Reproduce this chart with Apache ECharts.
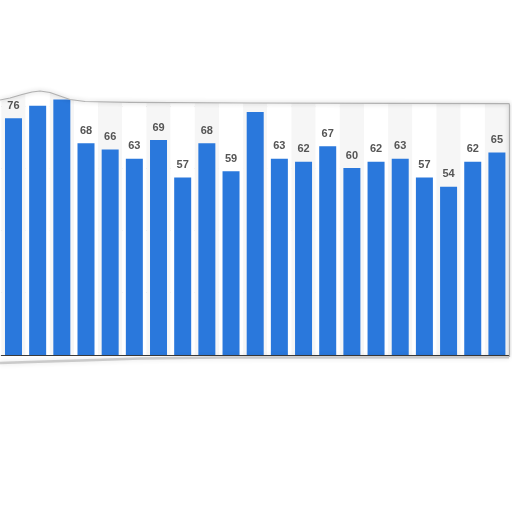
<!DOCTYPE html>
<html>
<head>
<meta charset="utf-8">
<script src="https://cdn.jsdelivr.net/npm/echarts@6/dist/echarts.min.js"></script>
<style>
html,body{margin:0;padding:0;background:#fff;}
#chart{width:512px;height:512px;}
</style>
</head>
<body>
<div id="chart"></div>
<script>
var categories = ['1','2','3','4','5','6','7','8','9','10','11','12','13','14','15','16','17','18','19','20','21'];
var values = [76, 80, 82, 68, 66, 63, 69, 57, 68, 59, 78, 63, 62, 67, 60, 62, 63, 57, 54, 62, 65];
var labelsCutByTear = [1, 2, 10];
var yTicks = [0, 20, 40, 60, 80, 100];

var chart = echarts.init(document.getElementById('chart'), null, {renderer: 'canvas'});

var topEdge = [[0,100],[10,98],[22,94.5],[32,92],[40,91],[50,92.5],[60,96],[70,99.5],[85,101.5],[130,102.3],[250,103],[400,103.3],[509,103.6]];

var barData = values.map(function (v, i) {
  return labelsCutByTear.indexOf(i) >= 0 ? {value: v, label: {show: false}} : v;
});

chart.setOption({
  animation: false,
  backgroundColor: '#fff',
  grid: {left: 1.4, right: 3, top: 43.5, bottom: 157, containLabel: false},
  xAxis: {
    type: 'category',
    data: categories,
    axisLine: {show: true, lineStyle: {color: '#3a3a3a', width: 1.2}},
    axisTick: {show: false},
    axisLabel: {show: false},
    splitArea: {show: true, areaStyle: {color: ['#f6f6f6', '#ffffff']}}
  },
  yAxis: {
    type: 'value',
    min: yTicks[0],
    max: yTicks[yTicks.length - 1],
    interval: 20,
    axisLine: {show: false},
    axisTick: {show: false},
    axisLabel: {show: false},
    splitLine: {show: true, lineStyle: {color: '#cfcfcf', type: [2, 2], width: 1}}
  },
  series: [{
    type: 'bar',
    data: barData,
    barWidth: 17,
    itemStyle: {color: '#2a78dc'},
    label: {
      show: true,
      position: 'top',
      distance: 7,
      color: '#555555',
      fontFamily: 'Liberation Sans, Arial, sans-serif',
      fontWeight: 'bold',
      fontSize: 11
    }
  }],
  graphic: {
    elements: [
      {
        type: 'polygon', z: 100, silent: true,
        shape: {points: [[0,0],[512,0],[512,360],[509,360]].concat(topEdge.slice().reverse())},
        style: {fill: '#ffffff'}
      },
      {
        type: 'polyline', z: 101, silent: true,
        shape: {points: topEdge.concat([[509.5,105],[509.5,357]])},
        style: {stroke: '#b0b0b0', lineWidth: 1.2, fill: null, shadowBlur: 4, shadowColor: 'rgba(0,0,0,0.3)'}
      },
      {
        type: 'polyline', z: 99, silent: true,
        shape: {points: [[0,363],[30,362],[80,360.5],[140,358.5],[220,357.5],[509,357.2]]},
        style: {stroke: 'rgba(160,160,160,0.5)', lineWidth: 2.5, fill: null, shadowBlur: 5, shadowColor: 'rgba(0,0,0,0.25)'}
      }
    ]
  }
});
</script>
</body>
</html>
